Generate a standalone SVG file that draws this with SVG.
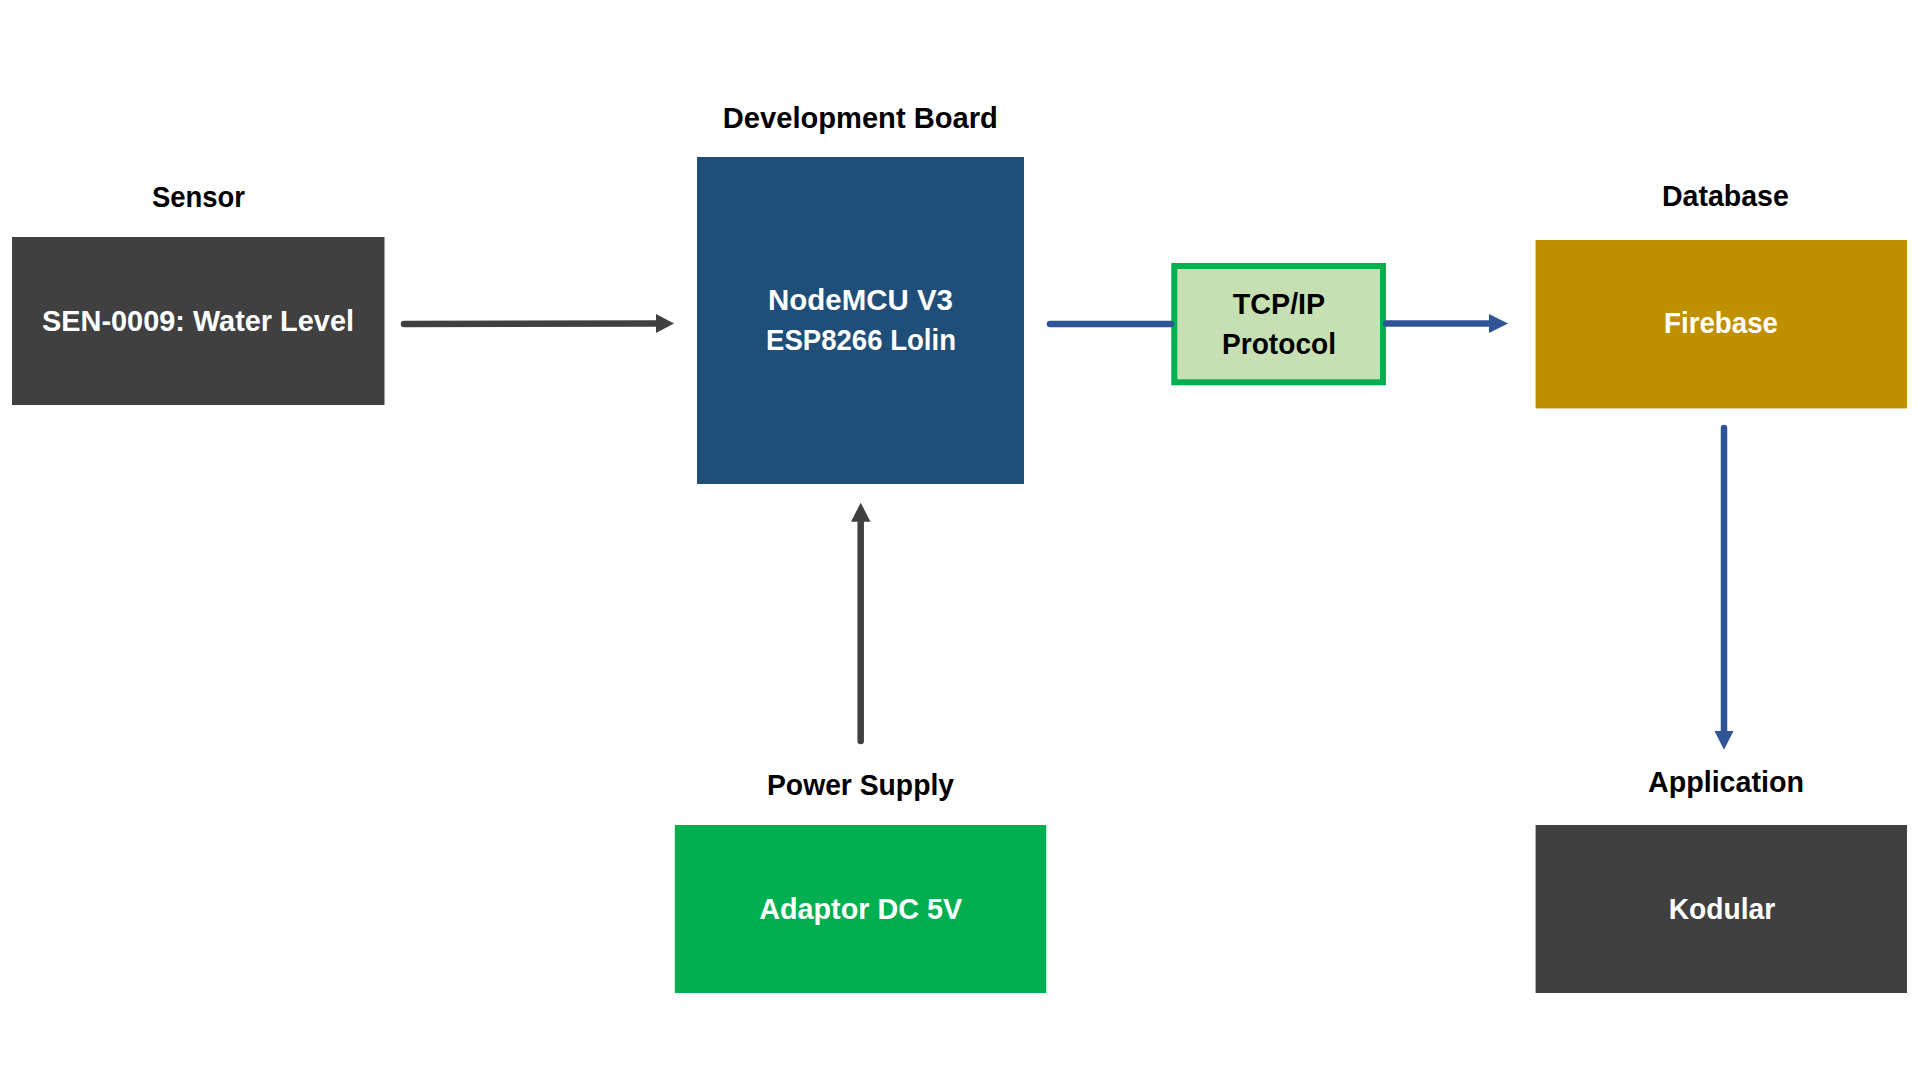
<svg xmlns="http://www.w3.org/2000/svg" width="1920" height="1080" viewBox="0 0 1920 1080">
<style>
text{font-family:"Liberation Sans",Arial,sans-serif;font-weight:bold;font-size:29px;text-anchor:middle}
.lbl{fill:#000}
.in{fill:#fff}
.dk{stroke:#404040;stroke-width:6.5;stroke-linecap:round;fill:none}
.bl{stroke:#2F5597;stroke-width:6.5;stroke-linecap:round;fill:none}
</style>
<rect width="1920" height="1080" fill="#fff"/>
<g id="sensor">
<text class="lbl" x="198.5" y="207" textLength="93" lengthAdjust="spacingAndGlyphs">Sensor</text>
<rect x="12" y="237" width="372.5" height="168" fill="#404040"/>
<text class="in" x="198" y="331" textLength="312" lengthAdjust="spacingAndGlyphs">SEN-0009: Water Level</text>
</g>
<g id="board">
<text class="lbl" x="860.3" y="128" textLength="275" lengthAdjust="spacingAndGlyphs">Development Board</text>
<rect x="697" y="157" width="327" height="327" fill="#1F4E79"/>
<text class="in" x="860.5" y="310" textLength="185" lengthAdjust="spacingAndGlyphs">NodeMCU V3</text>
<text class="in" x="861" y="349.5" textLength="190" lengthAdjust="spacingAndGlyphs">ESP8266 Lolin</text>
</g>
<g id="tcp">
<rect x="1174.3" y="266" width="208.7" height="116.3" fill="#C6E0B4" stroke="#00B050" stroke-width="6"/>
<text class="lbl" x="1279" y="314" textLength="92.5" lengthAdjust="spacingAndGlyphs">TCP/IP</text>
<text class="lbl" x="1279" y="353.5" textLength="114" lengthAdjust="spacingAndGlyphs">Protocol</text>
</g>
<g id="firebase">
<text class="lbl" x="1725.4" y="206" textLength="127" lengthAdjust="spacingAndGlyphs">Database</text>
<rect x="1535.6" y="240" width="371.4" height="168.4" fill="#BF9000"/>
<text class="in" x="1721" y="333" textLength="114" lengthAdjust="spacingAndGlyphs">Firebase</text>
</g>
<g id="power">
<text class="lbl" x="860.5" y="795" textLength="187" lengthAdjust="spacingAndGlyphs">Power Supply</text>
<rect x="674.8" y="825" width="371.5" height="168" fill="#00B050"/>
<text class="in" x="860.7" y="919" textLength="203" lengthAdjust="spacingAndGlyphs">Adaptor DC 5V</text>
</g>
<g id="app">
<text class="lbl" x="1726" y="792" textLength="156" lengthAdjust="spacingAndGlyphs">Application</text>
<rect x="1535.6" y="825" width="371.4" height="168" fill="#404040"/>
<text class="in" x="1722" y="919" textLength="106.5" lengthAdjust="spacingAndGlyphs">Kodular</text>
</g>
<g id="connectors">
<line class="dk" x1="404" y1="324" x2="658" y2="323.5"/>
<polygon points="656,314 674,323.5 656,333" fill="#404040"/>
<line class="dk" x1="860.7" y1="741" x2="860.7" y2="519"/>
<polygon points="851,521.7 860.7,502.7 870.5,521.7" fill="#404040"/>
<line class="bl" x1="1050" y1="324" x2="1171" y2="324"/>
<line class="bl" x1="1386" y1="323.5" x2="1491" y2="323.5"/>
<polygon points="1489,314 1508,323.5 1489,333" fill="#2F5597"/>
<line class="bl" x1="1724" y1="428" x2="1724" y2="733"/>
<polygon points="1714.5,731 1733.5,731 1724,749.7" fill="#2F5597"/>
</g>
</svg>
